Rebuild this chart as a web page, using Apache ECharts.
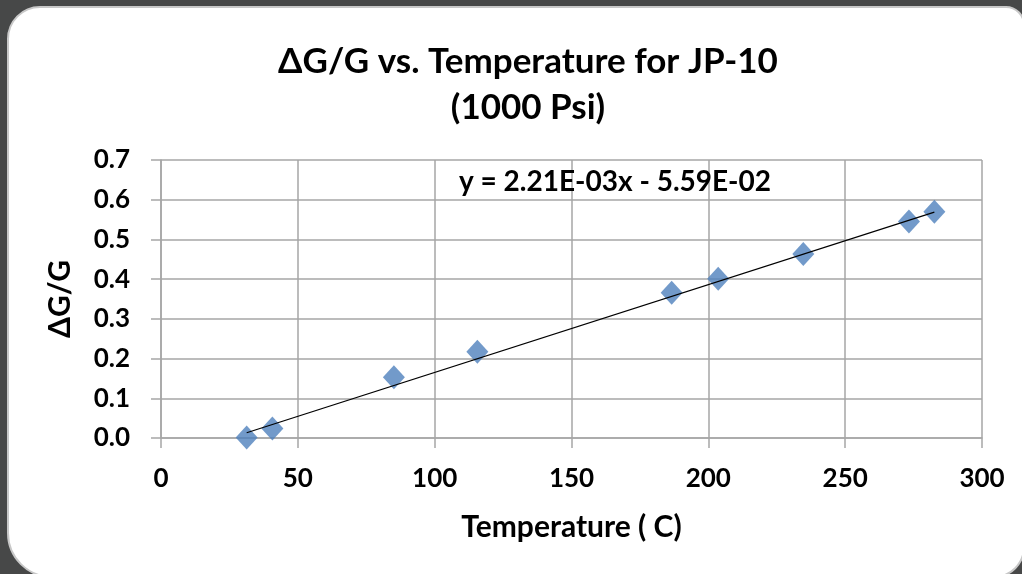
<!DOCTYPE html>
<html>
<head>
<meta charset="utf-8">
<title>ΔG/G vs. Temperature for JP-10</title>
<script src="https://cdn.jsdelivr.net/npm/echarts@6/dist/echarts.min.js"></script>
<style>
  html, body { margin: 0; padding: 0; background: #474848; }
  #chart { width: 1022px; height: 574px; }
</style>
</head>
<body>
<div id="chart"></div>
<script>
// Measured fractional change in modulus against temperature, JP-10 at 1000 psi
const temperatureC = [31.3, 40.7, 85.1, 115.6, 186.6, 203.6, 234.7, 273.3, 282.6];
const deltaGoverG  = [0.001, 0.024, 0.153, 0.217, 0.366, 0.401, 0.463, 0.545, 0.570];

// Linear trendline coefficients
const slope = 2.21e-3;
const intercept = -5.59e-2;

const xTicks = { min: 0, max: 300, step: 50 };
const yTicks = { min: 0, max: 0.7, step: 0.1 };

const FONT = 'Lato';
const gridColor = '#a6a6a6';

const points = temperatureC.map((t, i) => [t, deltaGoverG[i]]);
const tMin = Math.min(...temperatureC);
const tMax = Math.max(...temperatureC);
const trend = [tMin, tMax].map(t => [t, slope * t + intercept]);

function sci(v) {
  return Math.abs(v).toExponential(2).toUpperCase().replace(/E([+-])(\d)$/, 'E$10$2');
}
const eqText = 'y = ' + sci(slope) + 'x ' + (intercept < 0 ? '- ' : '+ ') + sci(intercept);

const chart = echarts.init(document.getElementById('chart'), null, { renderer: 'canvas' });

chart.setOption({
  backgroundColor: 'transparent',
  animation: false,
  graphic: [
    {
      type: 'rect', z: -10, silent: true,
      shape: { x: 8, y: 7, width: 1016, height: 570, r: [32, 18, 30, 44] },
      style: { fill: '#ffffff', stroke: '#c8c8c8', lineWidth: 2 }
    },
    {
      type: 'text', z: 10, silent: true,
      x: 615, y: 182,
      style: {
        text: eqText, fill: '#000', font: 'bold 28px ' + FONT,
        align: 'center', verticalAlign: 'middle'
      }
    }
  ],
  title: {
    text: 'ΔG/G vs. Temperature for JP-10\n(1000 Psi)',
    left: 523, top: 34, textAlign: 'center',
    textStyle: { fontFamily: FONT, fontWeight: 'bold', fontSize: 35, color: '#000', lineHeight: 46 }
  },
  grid: { left: 161, right: 40, top: 160, bottom: 136, containLabel: false },
  xAxis: {
    type: 'value', min: xTicks.min, max: xTicks.max, interval: xTicks.step,
    name: 'Temperature ( C)', nameLocation: 'middle', nameGap: 74,
    nameTextStyle: { fontFamily: FONT, fontWeight: 'bold', fontSize: 30, color: '#000' },
    axisLine: { show: true, lineStyle: { color: gridColor, width: 1.5 } },
    axisTick: { show: true, inside: false, length: 10, lineStyle: { color: gridColor, width: 1.5 } },
    axisLabel: { margin: 28, fontFamily: FONT, fontWeight: 'bold', fontSize: 26, color: '#000' },
    splitLine: { show: true, lineStyle: { color: gridColor, width: 1.5 } }
  },
  yAxis: {
    type: 'value', min: yTicks.min, max: yTicks.max, interval: yTicks.step,
    name: 'ΔG/G', nameLocation: 'middle', nameGap: 86, nameRotate: 90,
    nameTextStyle: { fontFamily: FONT, fontWeight: 'bold', fontSize: 30, color: '#000' },
    axisLine: { show: true, lineStyle: { color: gridColor, width: 1.5 } },
    axisTick: { show: true, inside: false, length: 10, lineStyle: { color: gridColor, width: 1.5 } },
    axisLabel: {
      margin: 31, fontFamily: FONT, fontWeight: 'bold', fontSize: 26, color: '#000',
      formatter: v => v.toFixed(1)
    },
    splitLine: { show: true, lineStyle: { color: gridColor, width: 1.5 } }
  },
  series: [
    {
      type: 'line', data: trend, symbol: 'none', z: 3,
      lineStyle: { color: '#000', width: 1.2 }
    },
    {
      type: 'scatter', data: points, symbol: 'diamond', symbolSize: [22, 24], z: 2,
      itemStyle: { color: '#4f81bd' }
    }
  ]
});
</script>
</body>
</html>
